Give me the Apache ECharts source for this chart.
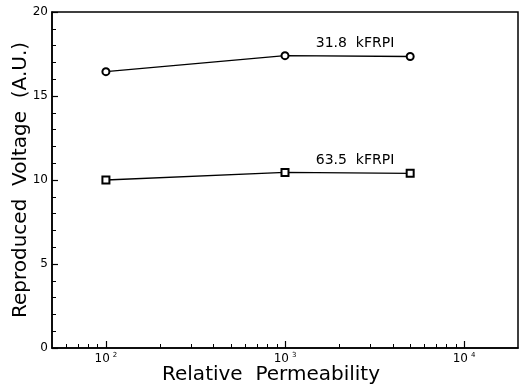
<!DOCTYPE html>
<html>
<head>
<meta charset="utf-8">
<script src="https://cdn.jsdelivr.net/npm/echarts@6/dist/echarts.min.js"></script>
<style>html,body{margin:0;padding:0;background:#fff}#c{width:526px;height:388px}</style>
</head>
<body>
<div id="c"></div>
<script>
// Data
var permeability = [100, 1000, 5000];
var voltage318 = [16.45, 17.4, 17.35];
var voltage635 = [10.0, 10.45, 10.4];
var seriesNames = ['31.8  kFRPI', '63.5  kFRPI'];
var xMajorTicks = [100, 1000, 10000];
var xMinorTicks = [60, 70, 80, 90, 200, 300, 400, 500, 600, 700, 800, 900, 2000, 3000, 4000, 5000, 6000, 7000, 8000, 9000];
var xExponents = {100: '2', 1000: '3', 10000: '4'};

var FONT = 'DejaVu Sans';

function pairs(xs, ys, labelIdx, name) {
  return xs.map(function (x, i) {
    var d = { value: [x, ys[i]] };
    if (i === labelIdx) {
      d.label = {
        show: true, position: 'inside', offset: [70, -12],
        formatter: name, color: '#000', fontFamily: FONT, fontSize: 14
      };
    }
    return d;
  });
}

var chart = echarts.init(document.getElementById('c'), null, { renderer: 'canvas' });
chart.setOption({
  backgroundColor: '#fff',
  animation: false,
  grid: { left: 52, right: 8, top: 12, bottom: 40, outerBoundsMode: 'none', containLabel: false, show: true, borderColor: '#000', borderWidth: 1.5, backgroundColor: 'transparent' },
  xAxis: [
    {
      type: 'log', logBase: 10, min: 50, max: 20000, position: 'bottom',
      name: 'Relative  Permeability', nameLocation: 'middle', nameGap: 17, nameMoveOverlap: false,
      nameTextStyle: { fontFamily: FONT, fontSize: 20, color: '#000', padding: [0, 28, 0, 0] },
      axisLine: { show: true, lineStyle: { color: '#000', width: 1.5 } },
      axisTick: { show: true, inside: true, length: 7, customValues: xMajorTicks, lineStyle: { color: '#000', width: 1.2 } },
      axisLabel: {
        show: true, customValues: xMajorTicks, margin: 4,
        formatter: function (v) { return '{b|10}{s|' + (xExponents[Math.round(v)] || '') + '}'; },
        rich: {
          b: { fontFamily: FONT, fontSize: 12, color: '#000' },
          s: { fontFamily: FONT, fontSize: 7, color: '#000', verticalAlign: 'top', padding: [0, 0, 6, 3] }
        }
      },
      splitLine: { show: false }
    },
    {
      type: 'log', logBase: 10, min: 50, max: 20000, position: 'bottom', gridIndex: 0,
      axisLine: { show: false },
      axisTick: { show: true, inside: true, length: 4, customValues: xMinorTicks, lineStyle: { color: '#000', width: 1 } },
      axisLabel: { show: false },
      splitLine: { show: false }
    }
  ],
  yAxis: {
    type: 'value', min: 0, max: 20, interval: 5,
    name: 'Reproduced  Voltage  (A.U.)', nameLocation: 'middle', nameGap: 21, nameMoveOverlap: false,
    nameTextStyle: { fontFamily: FONT, fontSize: 20, color: '#000' },
    axisLine: { show: true, lineStyle: { color: '#000', width: 1.5 } },
    axisTick: { show: true, inside: true, length: 6, lineStyle: { color: '#000', width: 1.2 } },
    minorTick: { show: true, splitNumber: 5, length: 4, lineStyle: { color: '#000', width: 1 } },
    axisLabel: { fontFamily: FONT, fontSize: 12, color: '#000', margin: 4 },
    splitLine: { show: false }
  },
  series: [
    {
      name: seriesNames[0], type: 'line', xAxisIndex: 0,
      data: pairs(permeability, voltage318, 1, seriesNames[0]),
      symbol: 'emptyCircle', symbolSize: 7,
      itemStyle: { color: '#000', borderColor: '#000', borderWidth: 1.2 },
      lineStyle: { color: '#000', width: 1.3 }
    },
    {
      name: seriesNames[1], type: 'line', xAxisIndex: 0,
      data: pairs(permeability, voltage635, 1, seriesNames[1]),
      symbol: 'emptyRect', symbolSize: 7,
      itemStyle: { color: '#000', borderColor: '#000', borderWidth: 1.2 },
      lineStyle: { color: '#000', width: 1.3 }
    }
  ]
});
</script>
</body>
</html>
